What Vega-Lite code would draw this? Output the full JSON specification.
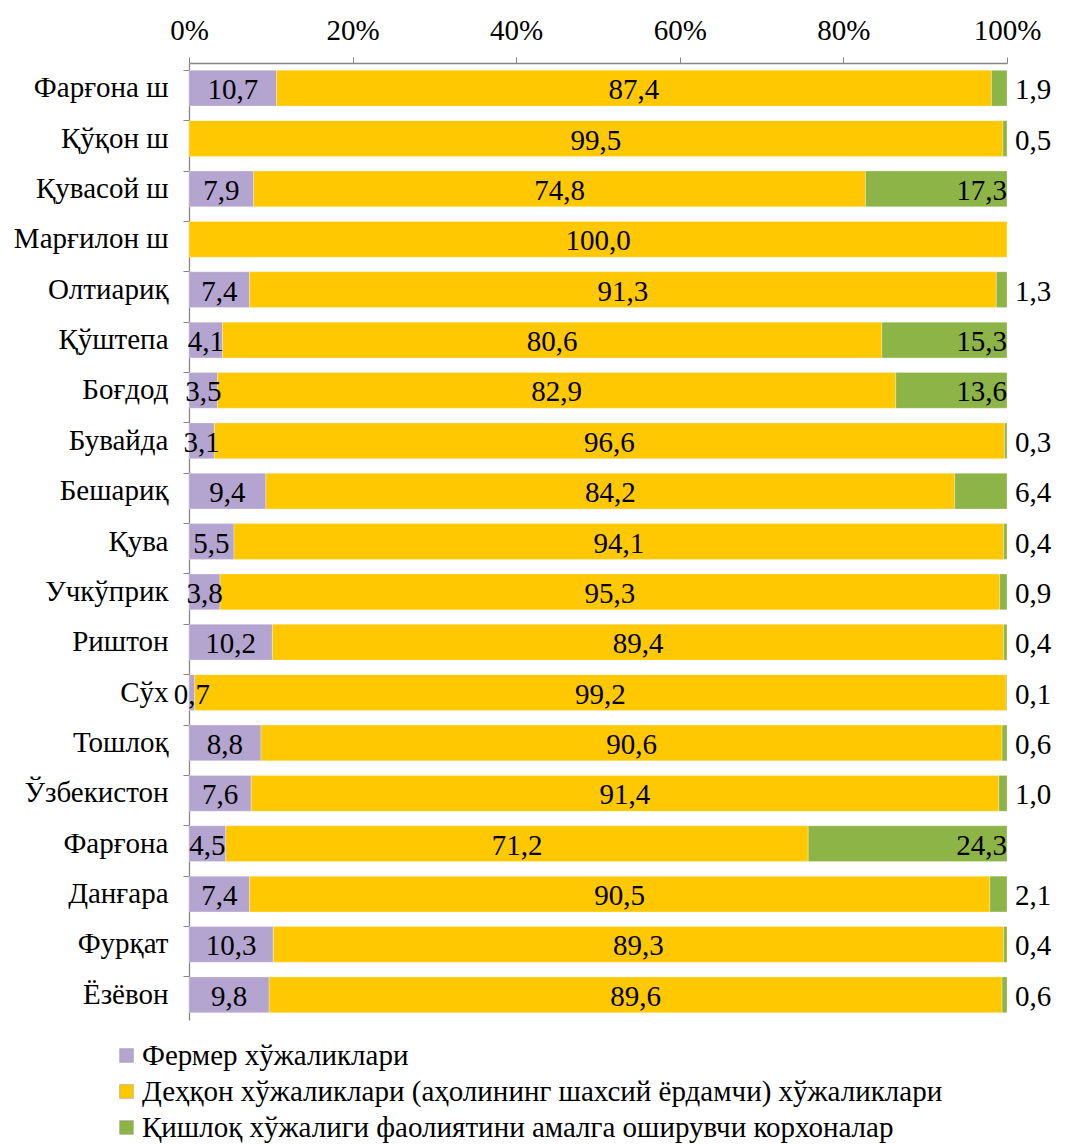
{
  "$schema": "https://vega.github.io/schema/vega-lite/v6.json",
  "width": 818,
  "height": 957,
  "autosize": "none",
  "padding": {"left": 189, "top": 63, "right": 58, "bottom": 125},
  "background": "white",
  "config": {
    "locale": {"number": {"decimal": ",", "thousands": " ", "grouping": [3], "currency": ["", ""]}},
    "font": "Times New Roman",
    "view": {"stroke": null}
  },
  "data": {
    "values": [
      {"region": "Фарғона ш", "type": "Фермер хўжаликлари", "o": 1, "value": 10.7},
      {"region": "Фарғона ш", "type": "Деҳқон хўжаликлари (аҳолининг шахсий ёрдамчи) хўжаликлари", "o": 2, "value": 87.4},
      {"region": "Фарғона ш", "type": "Қишлоқ хўжалиги фаолиятини амалга оширувчи корхоналар", "o": 3, "value": 1.9},
      {"region": "Қўқон ш", "type": "Деҳқон хўжаликлари (аҳолининг шахсий ёрдамчи) хўжаликлари", "o": 2, "value": 99.5},
      {"region": "Қўқон ш", "type": "Қишлоқ хўжалиги фаолиятини амалга оширувчи корхоналар", "o": 3, "value": 0.5},
      {"region": "Қувасой ш", "type": "Фермер хўжаликлари", "o": 1, "value": 7.9},
      {"region": "Қувасой ш", "type": "Деҳқон хўжаликлари (аҳолининг шахсий ёрдамчи) хўжаликлари", "o": 2, "value": 74.8},
      {"region": "Қувасой ш", "type": "Қишлоқ хўжалиги фаолиятини амалга оширувчи корхоналар", "o": 3, "value": 17.3},
      {"region": "Марғилон ш", "type": "Деҳқон хўжаликлари (аҳолининг шахсий ёрдамчи) хўжаликлари", "o": 2, "value": 100.0},
      {"region": "Олтиариқ", "type": "Фермер хўжаликлари", "o": 1, "value": 7.4},
      {"region": "Олтиариқ", "type": "Деҳқон хўжаликлари (аҳолининг шахсий ёрдамчи) хўжаликлари", "o": 2, "value": 91.3},
      {"region": "Олтиариқ", "type": "Қишлоқ хўжалиги фаолиятини амалга оширувчи корхоналар", "o": 3, "value": 1.3},
      {"region": "Қўштепа", "type": "Фермер хўжаликлари", "o": 1, "value": 4.1},
      {"region": "Қўштепа", "type": "Деҳқон хўжаликлари (аҳолининг шахсий ёрдамчи) хўжаликлари", "o": 2, "value": 80.6},
      {"region": "Қўштепа", "type": "Қишлоқ хўжалиги фаолиятини амалга оширувчи корхоналар", "o": 3, "value": 15.3},
      {"region": "Боғдод", "type": "Фермер хўжаликлари", "o": 1, "value": 3.5},
      {"region": "Боғдод", "type": "Деҳқон хўжаликлари (аҳолининг шахсий ёрдамчи) хўжаликлари", "o": 2, "value": 82.9},
      {"region": "Боғдод", "type": "Қишлоқ хўжалиги фаолиятини амалга оширувчи корхоналар", "o": 3, "value": 13.6},
      {"region": "Бувайда", "type": "Фермер хўжаликлари", "o": 1, "value": 3.1},
      {"region": "Бувайда", "type": "Деҳқон хўжаликлари (аҳолининг шахсий ёрдамчи) хўжаликлари", "o": 2, "value": 96.6},
      {"region": "Бувайда", "type": "Қишлоқ хўжалиги фаолиятини амалга оширувчи корхоналар", "o": 3, "value": 0.3},
      {"region": "Бешариқ", "type": "Фермер хўжаликлари", "o": 1, "value": 9.4},
      {"region": "Бешариқ", "type": "Деҳқон хўжаликлари (аҳолининг шахсий ёрдамчи) хўжаликлари", "o": 2, "value": 84.2},
      {"region": "Бешариқ", "type": "Қишлоқ хўжалиги фаолиятини амалга оширувчи корхоналар", "o": 3, "value": 6.4},
      {"region": "Қува", "type": "Фермер хўжаликлари", "o": 1, "value": 5.5},
      {"region": "Қува", "type": "Деҳқон хўжаликлари (аҳолининг шахсий ёрдамчи) хўжаликлари", "o": 2, "value": 94.1},
      {"region": "Қува", "type": "Қишлоқ хўжалиги фаолиятини амалга оширувчи корхоналар", "o": 3, "value": 0.4},
      {"region": "Учкўприк", "type": "Фермер хўжаликлари", "o": 1, "value": 3.8},
      {"region": "Учкўприк", "type": "Деҳқон хўжаликлари (аҳолининг шахсий ёрдамчи) хўжаликлари", "o": 2, "value": 95.3},
      {"region": "Учкўприк", "type": "Қишлоқ хўжалиги фаолиятини амалга оширувчи корхоналар", "o": 3, "value": 0.9},
      {"region": "Риштон", "type": "Фермер хўжаликлари", "o": 1, "value": 10.2},
      {"region": "Риштон", "type": "Деҳқон хўжаликлари (аҳолининг шахсий ёрдамчи) хўжаликлари", "o": 2, "value": 89.4},
      {"region": "Риштон", "type": "Қишлоқ хўжалиги фаолиятини амалга оширувчи корхоналар", "o": 3, "value": 0.4},
      {"region": "Сўх", "type": "Фермер хўжаликлари", "o": 1, "value": 0.7},
      {"region": "Сўх", "type": "Деҳқон хўжаликлари (аҳолининг шахсий ёрдамчи) хўжаликлари", "o": 2, "value": 99.2},
      {"region": "Сўх", "type": "Қишлоқ хўжалиги фаолиятини амалга оширувчи корхоналар", "o": 3, "value": 0.1},
      {"region": "Тошлоқ", "type": "Фермер хўжаликлари", "o": 1, "value": 8.8},
      {"region": "Тошлоқ", "type": "Деҳқон хўжаликлари (аҳолининг шахсий ёрдамчи) хўжаликлари", "o": 2, "value": 90.6},
      {"region": "Тошлоқ", "type": "Қишлоқ хўжалиги фаолиятини амалга оширувчи корхоналар", "o": 3, "value": 0.6},
      {"region": "Ўзбекистон", "type": "Фермер хўжаликлари", "o": 1, "value": 7.6},
      {"region": "Ўзбекистон", "type": "Деҳқон хўжаликлари (аҳолининг шахсий ёрдамчи) хўжаликлари", "o": 2, "value": 91.4},
      {"region": "Ўзбекистон", "type": "Қишлоқ хўжалиги фаолиятини амалга оширувчи корхоналар", "o": 3, "value": 1.0},
      {"region": "Фарғона", "type": "Фермер хўжаликлари", "o": 1, "value": 4.5},
      {"region": "Фарғона", "type": "Деҳқон хўжаликлари (аҳолининг шахсий ёрдамчи) хўжаликлари", "o": 2, "value": 71.2},
      {"region": "Фарғона", "type": "Қишлоқ хўжалиги фаолиятини амалга оширувчи корхоналар", "o": 3, "value": 24.3},
      {"region": "Данғара", "type": "Фермер хўжаликлари", "o": 1, "value": 7.4},
      {"region": "Данғара", "type": "Деҳқон хўжаликлари (аҳолининг шахсий ёрдамчи) хўжаликлари", "o": 2, "value": 90.5},
      {"region": "Данғара", "type": "Қишлоқ хўжалиги фаолиятини амалга оширувчи корхоналар", "o": 3, "value": 2.1},
      {"region": "Фурқат", "type": "Фермер хўжаликлари", "o": 1, "value": 10.3},
      {"region": "Фурқат", "type": "Деҳқон хўжаликлари (аҳолининг шахсий ёрдамчи) хўжаликлари", "o": 2, "value": 89.3},
      {"region": "Фурқат", "type": "Қишлоқ хўжалиги фаолиятини амалга оширувчи корхоналар", "o": 3, "value": 0.4},
      {"region": "Ёзёвон", "type": "Фермер хўжаликлари", "o": 1, "value": 9.8},
      {"region": "Ёзёвон", "type": "Деҳқон хўжаликлари (аҳолининг шахсий ёрдамчи) хўжаликлари", "o": 2, "value": 89.6},
      {"region": "Ёзёвон", "type": "Қишлоқ хўжалиги фаолиятини амалга оширувчи корхоналар", "o": 3, "value": 0.6}
    ]
  },
  "transform": [
    {"stack": "value", "groupby": ["region"], "sort": [{"field": "o", "order": "ascending"}], "as": ["x0", "x1"], "offset": "normalize"},
    {"calculate": "(datum.x0 + datum.x1) / 2", "as": "xm"}
  ],
  "encoding": {
    "y": {
      "field": "region",
      "type": "nominal",
      "sort": null,
      "scale": {"paddingInner": 0.29, "paddingOuter": 0.145},
      "axis": {
        "title": null,
        "labelFont": "Times New Roman",
        "labelFontSize": 29,
        "labelColor": "black",
        "labelPadding": 15,
        "domainColor": "#868686",
        "tickColor": "#868686",
        "tickSize": 6,
        "bandPosition": 0,
        "domainWidth": 1.3
      }
    }
  },
  "layer": [
    {
      "mark": {"type": "bar", "stroke": "#ffffff", "strokeOpacity": 0.35, "strokeWidth": 0.8},
      "encoding": {
        "x": {
          "field": "x0",
          "type": "quantitative",
          "scale": {"domain": [0, 1], "nice": false, "zero": true},
          "axis": {
            "orient": "top",
            "title": null,
            "format": ".0%",
            "values": [0, 0.2, 0.4, 0.6, 0.8, 1],
            "labelFont": "Times New Roman",
            "labelFontSize": 29,
            "labelColor": "black",
            "labelPadding": 12,
            "labelFlush": false,
            "grid": false,
            "domainColor": "#868686",
            "tickColor": "#868686",
            "tickSize": 6,
            "domainWidth": 1.3
          }
        },
        "x2": {"field": "x1"},
        "color": {
          "field": "type",
          "type": "nominal",
          "sort": ["Фермер хўжаликлари", "Деҳқон хўжаликлари (аҳолининг шахсий ёрдамчи) хўжаликлари", "Қишлоқ хўжалиги фаолиятини амалга оширувчи корхоналар"],
          "scale": {
            "domain": ["Фермер хўжаликлари", "Деҳқон хўжаликлари (аҳолининг шахсий ёрдамчи) хўжаликлари", "Қишлоқ хўжалиги фаолиятини амалга оширувчи корхоналар"],
            "range": ["#B3A5CF", "#FFC800", "#8DB446"]
          },
          "legend": {
            "title": null,
            "orient": "none",
            "legendX": -77,
            "legendY": 978,
            "direction": "vertical",
            "labelFont": "Times New Roman",
            "labelFontSize": 29,
            "labelColor": "black",
            "labelLimit": 1000,
            "symbolType": "square",
            "symbolSize": 190,
            "symbolStrokeColor": "#999999",
            "symbolStrokeWidth": 0.5,
            "rowPadding": 6,
            "labelOffset": 1
          }
        }
      }
    },
    {
      "transform": [{"filter": "datum.o < 3"}],
      "mark": {"type": "text", "font": "Times New Roman", "fontSize": 29, "color": "black", "baseline": "middle", "dy": 2},
      "encoding": {
        "x": {"field": "xm", "type": "quantitative"},
        "text": {"field": "value", "type": "quantitative", "format": ".1f"}
      }
    },
    {
      "transform": [{"filter": "datum.o == 3 && datum.value < 10"}],
      "mark": {"type": "text", "font": "Times New Roman", "fontSize": 29, "color": "black", "baseline": "middle", "align": "left", "dx": 8, "dy": 2},
      "encoding": {
        "x": {"field": "x1", "type": "quantitative"},
        "text": {"field": "value", "type": "quantitative", "format": ".1f"}
      }
    },
    {
      "transform": [{"filter": "datum.o == 3 && datum.value >= 10"}],
      "mark": {"type": "text", "font": "Times New Roman", "fontSize": 29, "color": "black", "baseline": "middle", "align": "right", "dx": 0, "dy": 2},
      "encoding": {
        "x": {"field": "x1", "type": "quantitative"},
        "text": {"field": "value", "type": "quantitative", "format": ".1f"}
      }
    }
  ]
}
